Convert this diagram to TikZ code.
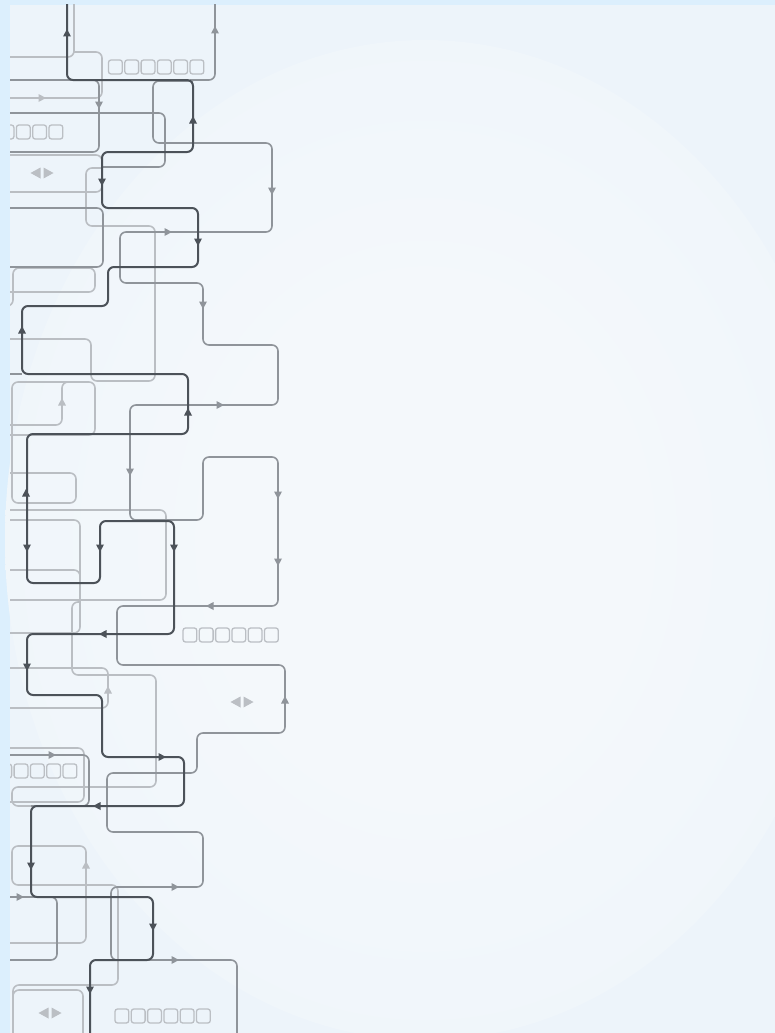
\documentclass[tikz,border=0pt]{standalone}
\usepackage{xcolor}
\definecolor{bordc}{HTML}{DCEFFD}
\definecolor{basec}{HTML}{EDF4FA}
\definecolor{glowc}{HTML}{F4F8FB}
\definecolor{dkc}{HTML}{4C5259}
\definecolor{mdc}{HTML}{8F949A}
\definecolor{ltc}{HTML}{BABEC3}
\definecolor{sqc}{HTML}{BBBFC4}
\pgfdeclareradialshading{glowshade}{\pgfpoint{0bp}{0bp}}{color(0bp)=(glowc); color(12bp)=(glowc); color(36bp)=(basec); color(50bp)=(basec)}
\newcommand\arw[4]{\fill[#4,shift={(#1,#2)},rotate=#3] (4,0)--(-3.5,4)--(-3.5,-4)--cycle;}
\newcommand\lricon[2]{%
  \fill[sqc] ({#1-11.5},#2) -- ({#1-1.5},{#2-5.5}) -- ({#1-1.5},{#2+5.5}) -- cycle;
  \fill[sqc] ({#1+1.5},{#2-5.5}) -- ({#1+11.5},#2) -- ({#1+1.5},{#2+5.5}) -- cycle;}
\newcommand\sqrow[3]{\foreach \i in {1,...,#3}{\draw[sq] ({#1+(\i-1)*16.3},#2) rectangle ++(13.8,14);}}
\begin{document}
\begin{tikzpicture}[x=1pt,y=-1pt,
  dk/.style={draw=dkc,line width=2pt,rounded corners=6pt},
  md/.style={draw=mdc,line width=1.6pt,rounded corners=6pt},
  lt/.style={draw=ltc,line width=1.6pt,rounded corners=6pt},
  sq/.style={draw=sqc,line width=1.3pt,rounded corners=2.5pt}]
\useasboundingbox (0,0) rectangle (775,1033);
\fill[bordc] (0,0) rectangle (775,1033);
\fill[basec] (10,5) rectangle (775,1033);
\shade[shading=glowshade] (425,540) ellipse [x radius=420, y radius=500];
\begin{scope}
\clip (10,5) rectangle (775,1033);
% light lines
\draw[lt] (74,0) -- (74,57) -- (0,57);
\draw[lt] (74,52) -- (102,52) -- (102,98) -- (0,98);
\arw{42}{98}{0}{ltc}
\draw[lt] (0,155) -- (102,155) -- (102,192) -- (0,192);
\draw[lt] (102,168) -- (86,168) -- (86,226) -- (155,226) -- (155,381) -- (91,381) -- (91,339) -- (0,339);
\draw[lt] (0,306) -- (13,306) -- (13,268) -- (95,268) -- (95,292) -- (0,292);
\draw[lt] (0,435) -- (95,435) -- (95,382) -- (12,382) -- (12,503) -- (76,503) -- (76,473) -- (0,473);
\draw[lt] (70,382) -- (62,382) -- (62,425) -- (0,425);
\arw{62}{402}{90}{ltc}
\draw[lt] (0,510) -- (166,510) -- (166,600) -- (0,600);
\draw[lt] (0,520) -- (80,520) -- (80,633) -- (0,633);
\draw[lt] (0,570) -- (80,570) -- (80,590);
\draw[lt] (80,602) -- (72,602) -- (72,675) -- (156,675) -- (156,787) -- (12,787) -- (12,806) -- (31,806);
\draw[lt] (0,668) -- (108,668) -- (108,708) -- (0,708);
\arw{108}{690}{90}{ltc}
\draw[lt] (0,748) -- (84,748) -- (84,802) -- (0,802);
\draw[lt] (0,943) -- (86,943) -- (86,846) -- (12,846) -- (12,885) -- (118,885) -- (118,985) -- (13,985) -- (13,1040);
\arw{86}{865}{90}{ltc}
\draw[lt] (13,1040) -- (13,990) -- (83,990) -- (83,1040);
% squares and icons
\sqrow{108.5}{60}{6}
\sqrow{0.1}{125}{4}
\sqrow{-2.2}{764}{5}
\sqrow{183}{628}{6}
\sqrow{115}{1009}{6}
\lricon{42}{173}
\lricon{242}{702}
\lricon{50}{1013}
% medium lines
\draw[md] (215,0) -- (215,80) -- (190,80);
\arw{215}{30}{90}{mdc}
\draw[md] (0,80) -- (99,80) -- (99,152) -- (0,152);
\arw{99}{105}{270}{mdc}
\draw[md] (0,113) -- (165,113) -- (165,167) -- (102,167);
\draw[md] (0,208) -- (103,208) -- (103,267) -- (0,267);
\draw[md] (0,374) -- (22,374);
\draw[md] (193,81) -- (153,81) -- (153,143) -- (272,143) -- (272,232) -- (120,232) -- (120,283) -- (203,283) -- (203,345) -- (278,345) -- (278,405) -- (130,405) -- (130,520) -- (203,520) -- (203,457) -- (278,457) -- (278,606) -- (117,606) -- (117,665) -- (285,665) -- (285,733) -- (197,733) -- (197,773) -- (107,773) -- (107,832) -- (203,832) -- (203,887) -- (111,887) -- (111,960) -- (237,960) -- (237,1040);
\arw{168}{232}{0}{mdc}
\arw{272}{191}{270}{mdc}
\arw{203}{305}{270}{mdc}
\arw{220}{405}{0}{mdc}
\arw{130}{472}{270}{mdc}
\arw{278}{495}{270}{mdc}
\arw{278}{562}{270}{mdc}
\arw{210}{606}{180}{mdc}
\arw{285}{700}{90}{mdc}
\arw{175}{887}{0}{mdc}
\arw{175}{960}{0}{mdc}
\draw[md] (0,755) -- (89,755) -- (89,806) -- (31,806);
\arw{52}{755}{0}{mdc}
\draw[md] (0,897) -- (57,897) -- (57,960) -- (0,960);
\arw{20}{897}{0}{mdc}
% dark line
\draw[dk] (67,0) -- (67,80) -- (193,80) -- (193,152) -- (102,152) -- (102,208) -- (198,208) -- (198,267) -- (108,267) -- (108,306) -- (22,306) -- (22,374) -- (188,374) -- (188,434) -- (27,434) -- (27,583) -- (100,583) -- (100,521) -- (174,521) -- (174,634) -- (27,634) -- (27,695) -- (102,695) -- (102,757) -- (184,757) -- (184,806) -- (31,806) -- (31,897) -- (153,897) -- (153,960) -- (90,960) -- (90,1040);
\arw{67}{33}{90}{dkc}
\arw{193}{120}{90}{dkc}
\arw{102}{182}{270}{dkc}
\arw{198}{242}{270}{dkc}
\arw{22}{330}{90}{dkc}
\arw{188}{412}{90}{dkc}
\arw{26}{493}{90}{dkc}
\arw{27}{548}{270}{dkc}
\arw{100}{548}{270}{dkc}
\arw{174}{548}{270}{dkc}
\arw{103}{634}{180}{dkc}
\arw{27}{667}{270}{dkc}
\arw{162}{757}{0}{dkc}
\arw{97}{806}{180}{dkc}
\arw{31}{866}{270}{dkc}
\arw{153}{927}{270}{dkc}
\arw{90}{990}{270}{dkc}
\end{scope}
\end{tikzpicture}
\end{document}
